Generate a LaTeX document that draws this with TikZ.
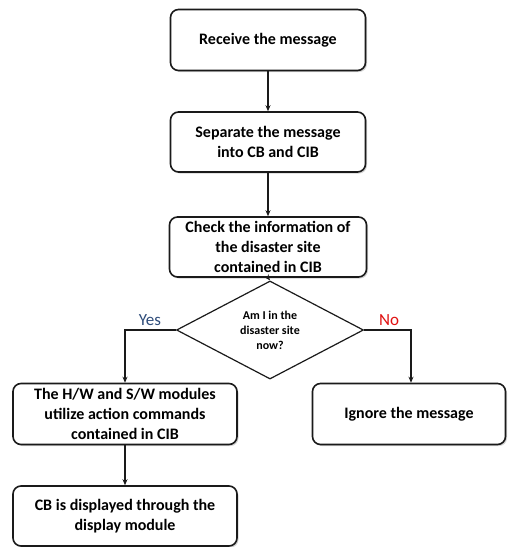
\documentclass[tikz,border=0pt]{standalone}
\usepackage{fontspec}
\setmainfont{Carlito}
\usetikzlibrary{shapes.geometric,shadows,arrows.meta}
\definecolor{yesblue}{HTML}{2E4C7A}
\definecolor{nored}{HTML}{E01010}
\definecolor{ink}{HTML}{1A1A1A}
\begin{document}
\begin{tikzpicture}[x=1pt,y=-1pt,
  box/.style={draw=ink, line width=1.6pt, rounded corners=8pt, fill=white,
    align=center, font=\fontsize{16}{20}\selectfont\bfseries, inner sep=0pt,
    drop shadow={shadow xshift=1.5pt, shadow yshift=-1.5pt, opacity=0.35, fill=gray}},
  dec/.style={diamond, draw=ink, line width=1.2pt, fill=white, align=center,
    font=\fontsize{12}{15}\selectfont\bfseries, inner sep=0pt,
    minimum width=187pt, minimum height=70pt},
  conn/.style={draw=ink, line width=1.4pt, -{Stealth[length=6pt,width=5pt]}},
  lab/.style={font=\fontsize{17}{20}\selectfont}]
\useasboundingbox (0,0) rectangle (507,547);
\node[box, minimum width=195pt, minimum height=61pt] (b1) at (268,40) {Receive the message};
\node[box, minimum width=195pt, minimum height=60pt] (b2) at (268,142) {Separate the message\\into CB and CIB};
\node[box, minimum width=197pt, minimum height=60pt] (b3) at (268,247) {Check the information of\\the disaster site\\contained in CIB};
\node[dec] (d) at (270,330) {Am I in the\\disaster site\\now?};
\node[box, minimum width=224pt, minimum height=61pt] (b4) at (125,414) {The H/W and S/W modules\\utilize action commands\\contained in CIB};
\node[box, minimum width=193pt, minimum height=61pt] (b5) at (409,414) {Ignore the message};
\node[box, minimum width=224pt, minimum height=60pt] (b6) at (125,516) {CB is displayed through the\\display module};
\node[lab, text=yesblue] (yes) at (150,320) {Yes};
\node[lab, text=nored] (no) at (389,320) {No};
\coordinate (lc) at (125,330);
\coordinate (rc) at (411,330);
\draw[conn] (b1.south) -- (b2.north);
\draw[conn] (b2.south) -- (b3.north);
\draw[conn] (b3.south) -- (d.north);
\draw[conn] (d.west) -- (lc) -- (b4.north);
\draw[conn] (d.east) -- (rc) -- (rc |- b5.north);
\draw[conn] (b4.south) -- (b6.north);
\end{tikzpicture}
\end{document}
